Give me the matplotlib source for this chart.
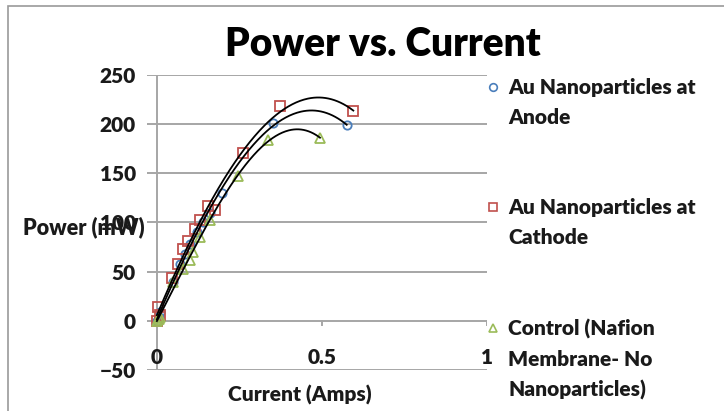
import numpy as np
import matplotlib
matplotlib.use("Agg")
import matplotlib.pyplot as plt
from matplotlib.lines import Line2D
from matplotlib.patches import Rectangle

# ── Data ──────────────────────────────────────────────────────────────────────

anode_current = [0.0, 0.005, 0.01, 0.05, 0.07, 0.085, 0.10, 0.12, 0.14, 0.16, 0.196, 0.352, 0.575]
anode_power   = [0.0, 4, 9, 40, 58, 68, 78, 90, 100, 110, 130, 201, 199]

cathode_current = [0.0, 0.004, 0.01, 0.045, 0.065, 0.08, 0.095, 0.115, 0.13, 0.156, 0.176, 0.262, 0.373, 0.595]
cathode_power   = [0.0, 14, 6, 44, 58, 73, 81, 93, 103, 117, 113, 171, 218, 213]

control_current = [0.0, 0.005, 0.01, 0.05, 0.08, 0.10, 0.11, 0.13, 0.16, 0.246, 0.337, 0.494]
control_power   = [0.0, 2, 4, 39, 53, 62, 70, 85, 103, 147, 184, 186]

y_ticks = [-50, 0, 50, 100, 150, 200, 250]
x_ticks = [0, 0.5, 1]
x_tick_labels = ["0", "0.5", "1"]

TREND_ORDER = 3

series = [
    ("Au Nanoparticles at\nAnode", anode_current, anode_power, "o", "#4a7ebb", 6),
    ("Au Nanoparticles at\nCathode", cathode_current, cathode_power, "s", "#c0504d", 7),
    ("Control (Nafion\nMembrane- No\nNanoparticles)", control_current, control_power, "^", "#9bbb59", 7),
]

FONT = "Lato"
WEIGHT = "heavy"
GRID = "#a6a6a6"
INK = "#1a1a1a"
SMALL = 15

# ── Figure ────────────────────────────────────────────────────────────────────

W, H = 724, 411
fig = plt.figure(figsize=(W / 100, H / 100), dpi=100)
fig.patch.set_facecolor("white")

# chart-area border (left and top edges show)
fig.add_artist(Rectangle((8 / W, -0.05), 1.2, (H - 6) / H + 0.05,
                         transform=fig.transFigure, fill=False,
                         ec="#9a9a9a", lw=1.2))

x0, x1 = 147, 487
y_top, y_bot = 75, 370
ax = fig.add_axes([x0 / W, (H - y_bot) / H, (x1 - x0) / W, (y_bot - y_top) / H])
ax.set_xlim(-0.03, 1.0)
ax.set_ylim(-50, 250)
for s in ax.spines.values():
    s.set_visible(False)

# gridlines, axis line and ticks
for yv in y_ticks:
    ax.axhline(yv, color=GRID, lw=1.4, zorder=1)
ax.plot([0, 0], [-50, 250], color=GRID, lw=1.4, zorder=1)
for xv in x_ticks[1:]:
    ax.plot([xv, xv], [0, -4], color=GRID, lw=1.4, zorder=1)

ax.set_xticks([])
ax.set_yticks(y_ticks)
ax.tick_params(axis="y", length=0, pad=8)
for lbl in ax.get_yticklabels():
    lbl.set_fontfamily(FONT)
    lbl.set_fontweight(WEIGHT)
    lbl.set_fontsize(SMALL)
    lbl.set_color(INK)

for xv, txt in zip(x_ticks, x_tick_labels):
    ax.text(xv, -37, txt, ha="center", va="center", fontsize=SMALL,
            fontweight=WEIGHT, family=FONT, color=INK)

# points and polynomial trendlines
for name, xs, ys, mk, col, ms in series:
    xs = np.asarray(xs)
    ys = np.asarray(ys)
    coef = np.polyfit(xs, ys, TREND_ORDER)
    xx = np.linspace(xs.min(), xs.max(), 200)
    ax.plot(xs, ys, linestyle="none", marker=mk, ms=ms, mfc="none",
            mec=col, mew=1.3, zorder=3)
    ax.plot(xx, np.polyval(coef, xx), color="black", lw=1.3, zorder=4)

# titles and axis labels
fig.text(383 / W, 1 - 45 / H, "Power vs. Current", ha="center", va="center",
         fontsize=28, fontweight=WEIGHT, family=FONT, color="black")
fig.text(300 / W, 1 - 395 / H, "Current (Amps)", ha="center", va="center",
         fontsize=SMALL, fontweight=WEIGHT, family=FONT, color=INK)
fig.text(145 / W, 1 - 227 / H, "Power (mW)", ha="right", va="center",
         fontsize=15.5, fontweight=WEIGHT, family=FONT, color=INK)

# legend, drawn by hand on the right
legend_y = [87, 207, 328]
for (name, xs, ys, mk, col, ms), ly in zip(series, legend_y):
    fig.add_artist(Line2D([493 / W], [1 - ly / H], marker=mk, ms=5.5,
                          mfc="none", mec=col, mew=1.2, linestyle="none",
                          transform=fig.transFigure))
    fig.text(508 / W, 1 - (ly - 9) / H, name, ha="left", va="top",
             fontsize=SMALL, fontweight=WEIGHT, family=FONT, color=INK,
             linespacing=1.67)

fig.savefig("out.png", dpi=100, facecolor="white")
